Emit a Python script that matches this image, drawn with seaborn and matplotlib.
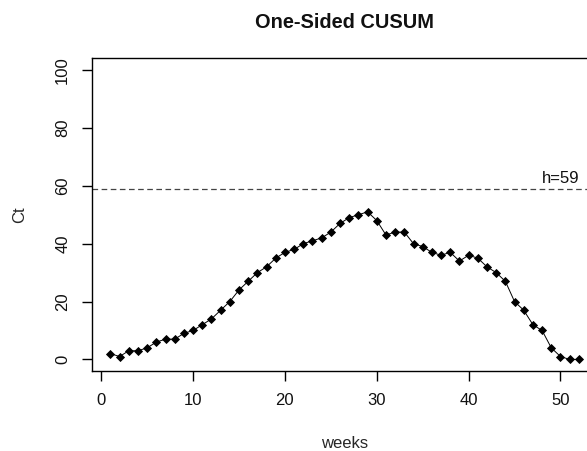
#!/usr/bin/python3

import matplotlib
matplotlib.use('Agg')
import matplotlib.pyplot as plt
import pandas as pd
import seaborn as sns

# weekly one-sided CUSUM values
weeks = list(range(1, 53))
ct = [2, 1, 3, 3, 4, 6, 7, 7, 9, 10,
      12, 14, 17, 20, 24, 27, 30, 32, 35, 37,
      38, 40, 41, 42, 44, 47, 49, 50, 51, 48,
      43, 44, 44, 40, 39, 37, 36, 37, 34, 36,
      35, 32, 30, 27, 20, 17, 12, 10, 4, 1,
      0, 0]
h = 59
x_ticks = [0, 10, 20, 30, 40, 50]
y_ticks = [0, 20, 40, 60, 80, 100]

df = pd.DataFrame({'weeks': weeks, 'Ct': ct})

sns.set_style('ticks')
plt.rcParams['font.family'] = ['Liberation Sans', 'DejaVu Sans']
plt.rcParams['text.color'] = '#111111'

fig = plt.figure(figsize=(5.87, 4.51), dpi=100)
# right edge lies past the figure, like the cropped original
ax = fig.add_axes([0.1562, 0.1774, 1.018 - 0.1562, 0.8703 - 0.1774])

sns.lineplot(data=df, x='weeks', y='Ct', ax=ax, color='black', linewidth=0.7,
             marker='D', markersize=3.6, markeredgewidth=0.6,
             markeredgecolor='black', markerfacecolor='black')

ax.axhline(h, color='#444444', linewidth=0.9, dashes=(4.5, 2.8))
ax.text(50, h + 0.9, f'h={h}', ha='center', va='bottom', fontsize=12)

ax.set_xlim(1 - 0.04 * 51, 52 + 0.04 * 51)
ax.set_ylim(-4, 104)
ax.set_xticks(x_ticks)
ax.set_yticks(y_ticks)
ax.set_yticklabels([str(v) for v in y_ticks], rotation=90, va='center')

for s in ax.spines.values():
    s.set_linewidth(1.0)
    s.set_color('black')
ax.tick_params(axis='both', direction='out', length=7, width=1.0,
               labelsize=12, colors='black', labelcolor='#111111')
ax.tick_params(axis='x', pad=9)
ax.tick_params(axis='y', pad=8.5)

ax.set_xlabel('weeks', fontsize=12, labelpad=20)
ax.set_ylabel('Ct', fontsize=12, labelpad=20)
fig.suptitle('One-Sided CUSUM', fontsize=14.4, fontweight='bold',
             x=0.587, y=0.951, va='center')

plt.savefig('out.png', dpi=100)
plt.close()
